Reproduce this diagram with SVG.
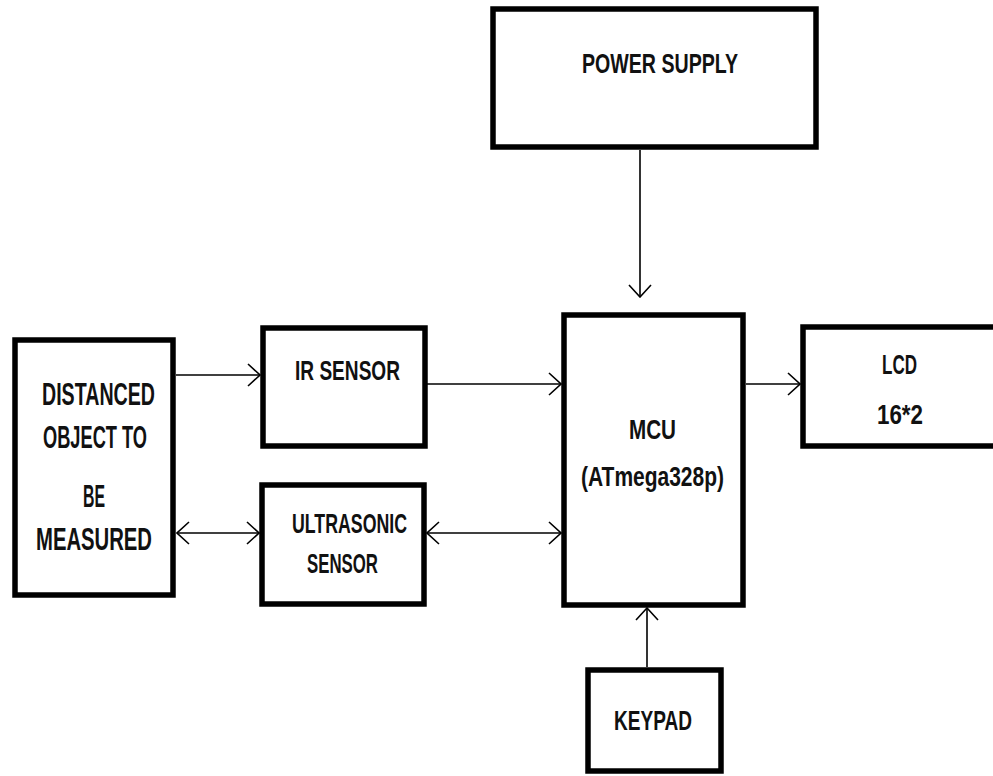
<svg xmlns="http://www.w3.org/2000/svg" width="993" height="776" viewBox="0 0 993 776">
<defs>
<style>
.box{fill:#ffffff;stroke:#000000;stroke-width:5.5}
.lbl{font-family:"Liberation Sans",Arial,sans-serif;font-weight:bold;font-size:28.5px;fill:#111111}
.big{font-size:31px}
.conn{stroke:#000000;stroke-width:1.6;fill:none}
</style>
<marker id="arr" markerUnits="userSpaceOnUse" viewBox="0 0 14 24" refX="13" refY="12" markerWidth="14" markerHeight="24" orient="auto-start-reverse">
<path d="M1,1 L13,12 L1,23" fill="none" stroke="#000000" stroke-width="1.6"/>
</marker>
</defs>
<rect width="993" height="776" fill="#ffffff"/>
<g id="connectors">
<line class="conn" x1="176" y1="375" x2="260" y2="375" marker-end="url(#arr)"/>
<line class="conn" x1="427" y1="384" x2="561" y2="384" marker-end="url(#arr)"/>
<line class="conn" x1="177" y1="533" x2="259" y2="533" marker-start="url(#arr)" marker-end="url(#arr)"/>
<line class="conn" x1="427" y1="533" x2="561" y2="533" marker-start="url(#arr)" marker-end="url(#arr)"/>
<line class="conn" x1="746" y1="384" x2="800" y2="384" marker-end="url(#arr)"/>
<line class="conn" x1="640" y1="150" x2="640" y2="297" marker-end="url(#arr)"/>
<line class="conn" x1="647" y1="667" x2="647" y2="608" marker-end="url(#arr)"/>
</g>
<g id="node-distanced">
<rect class="box" x="15" y="340" width="158" height="255"/>
<text class="lbl big" x="42" y="405" textLength="113" lengthAdjust="spacingAndGlyphs">DISTANCED</text>
<text class="lbl big" x="43" y="448" textLength="104" lengthAdjust="spacingAndGlyphs">OBJECT TO</text>
<text class="lbl big" x="83" y="507" textLength="22" lengthAdjust="spacingAndGlyphs">BE</text>
<text class="lbl big" x="36" y="550" textLength="116" lengthAdjust="spacingAndGlyphs">MEASURED</text>
</g>
<g id="node-ir">
<rect class="box" x="263" y="328" width="162" height="118"/>
<text class="lbl" x="295" y="380" textLength="105" lengthAdjust="spacingAndGlyphs">IR SENSOR</text>
</g>
<g id="node-ultrasonic">
<rect class="box" x="262" y="485" width="162" height="119"/>
<text class="lbl" x="292" y="533" textLength="115" lengthAdjust="spacingAndGlyphs">ULTRASONIC</text>
<text class="lbl" x="307" y="573" textLength="71" lengthAdjust="spacingAndGlyphs">SENSOR</text>
</g>
<g id="node-power">
<rect class="box" x="493" y="9" width="323" height="138"/>
<text class="lbl" x="582" y="73" textLength="156" lengthAdjust="spacingAndGlyphs">POWER SUPPLY</text>
</g>
<g id="node-mcu">
<rect class="box" x="564" y="315" width="179" height="290"/>
<text class="lbl" x="629" y="439" textLength="47" lengthAdjust="spacingAndGlyphs">MCU</text>
<text class="lbl" x="581" y="486" textLength="143" lengthAdjust="spacingAndGlyphs">(ATmega328p)</text>
</g>
<g id="node-lcd">
<rect class="box" x="803" y="327" width="210" height="119"/>
<text class="lbl" x="882" y="374" textLength="35" lengthAdjust="spacingAndGlyphs">LCD</text>
<text class="lbl" x="877" y="424" textLength="46" lengthAdjust="spacingAndGlyphs">16*2</text>
</g>
<g id="node-keypad">
<rect class="box" x="588" y="670" width="133" height="101"/>
<text class="lbl" x="614" y="730" textLength="78" lengthAdjust="spacingAndGlyphs">KEYPAD</text>
</g>
</svg>
